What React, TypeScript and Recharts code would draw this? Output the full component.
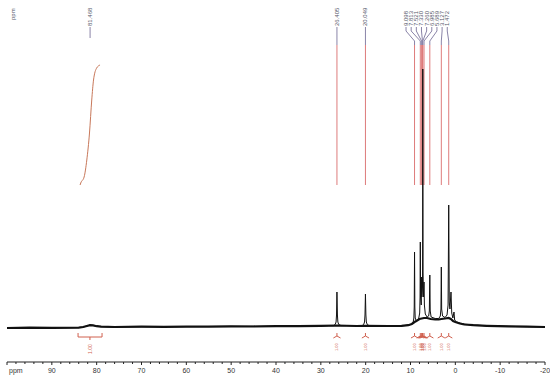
import React from "react";
import {
  ComposedChart,
  Line,
  XAxis,
  YAxis,
  ReferenceLine,
  ReferenceDot,
} from "recharts";

// spectrum: [ppm, intensity]
const spectrumPts: [number, number][] = [
  [100, -1], [90, -0.8], [84, -0.6], [83, 0], [82.2, 1.0], [81.5, 1.8], [80.8, 1.6],
  [80, 0.8], [79, 0.3], [76, 0], [70, 0.2], [60, 0.4], [50, 0.6], [40, 0.9], [30, 1.1],
  [27.2, 1.3], [26.8, 2.5], [26.6, 5], [26.5, 12], [26.405, 35], [26.3, 12], [26.2, 5],
  [26.0, 2.5], [25.5, 1.4], [22, 1], [20.85, 1.2], [20.45, 2.5], [20.25, 5], [20.15, 12],
  [20.049, 33], [19.95, 12], [19.85, 5], [19.65, 2.5], [19.2, 1.3], [15, 1], [12, 1.2],
  [10.5, 1.8], [9.7, 3], [9.4, 5], [9.25, 9], [9.17, 20], [9.098, 75], [9.03, 20],
  [8.95, 9], [8.7, 6], [8.2, 8], [7.95, 14], [7.87, 30], [7.813, 85], [7.75, 30],
  [7.6, 22], [7.521, 50], [7.45, 30], [7.38, 35], [7.33, 40], [7.3, 60], [7.26, 258],
  [7.2, 55], [7.1, 30], [6.985, 45], [6.9, 22], [6.7, 13], [6.3, 10], [5.95, 11],
  [5.8, 16], [5.689, 52], [5.6, 16], [5.4, 10], [4.5, 8.5], [3.7, 8.5], [3.35, 11],
  [3.21, 18], [3.127, 60], [3.05, 18], [2.85, 11], [2.3, 9.5], [1.85, 12], [1.62, 22],
  [1.472, 122], [1.35, 25], [1.2, 18], [0.97, 35], [0.8, 14], [0.55, 9], [0.3, 15],
  [0.15, 7], [-0.3, 5], [-1, 4], [-2, 3], [-4, 2], [-7, 1.2], [-12, 0.6], [-20, 0],
];

// noisy baseline (drawn thick)
const baselinePts: [number, number][] = [
  [100, -1], [95, -0.6], [90, -0.9], [84, -0.6], [83, 0], [82.2, 1.0], [81.5, 1.8],
  [80.8, 1.6], [80, 0.8], [79, 0.3], [76, 0], [70, 0.3], [65, 0.1], [60, 0.4], [55, 0.3],
  [50, 0.6], [45, 0.5], [40, 0.9], [35, 0.8], [30, 1.1], [26.4, 1.5], [22, 1], [20, 1.2],
  [15, 1], [12, 1.2], [10.5, 1.8], [9.7, 3], [9.1, 5], [8.7, 6], [8, 8], [7, 9], [6.3, 9],
  [5.5, 8], [4.5, 7.5], [3.7, 7.5], [3.1, 8], [2.3, 8.5], [1.5, 9], [1, 8], [0.5, 6],
  [0, 5], [-1, 3.5], [-2, 2.5], [-4, 1.8], [-7, 1.2], [-12, 0.6], [-16, 0.3], [-20, 0],
];

// integral curve over the broad signal at 81 ppm
const integralPts: [number, number][] = [
  [83.7, 142], [83.55, 144], [82.8, 150], [82.2, 167], [81.6, 194],
  [81.1, 227], [80.7, 247], [80.0, 259], [79.25, 262],
];

const peakLabels = ["26.405", "20.049"];
const clusterLabels = [
  "9.098", "7.813", "7.521", "7.330", "7.260", "6.985", "5.689", "3.127", "1.472",
];
const integralLabels = ["1.00", "1.00", "1.00", "1.00", "1.00", "1.00", "1.00", "1.00", "1.00", "1.00", "1.00"];

const majorTicks = [100, 90, 80, 70, 60, 50, 40, 30, 20, 10, 0, -10, -20];
const allTicks = Array.from({ length: 61 }, (_, i) => 100 - i * 2);

const toRows = (pts: [number, number][]) => pts.map(([ppm, v]) => ({ ppm, v }));

const LABEL_COLOR = "#55586a";
const LINK_COLOR = "#8a84a8";
const RED = "#de7b7b";
const MARK = "#d0604f";
const FONT = "Liberation Sans, Arial, sans-serif";

const AxisTick = (props: any) => {
  const { x, y, payload } = props;
  const val = payload.value;
  const major = majorTicks.includes(val);
  return (
    <g>
      <line x1={x} x2={x} y1={y} y2={y + (major ? 3 : 2)} stroke="#222" />
      {major && val !== 100 && (
        <text x={x} y={y + 11} textAnchor="middle" style={{ fontSize: 7, fill: "#333", fontFamily: FONT }}>
          {val}
        </text>
      )}
      {val === 100 && (
        <text x={x + 2} y={y + 11} style={{ fontSize: 7, fill: "#333", fontFamily: FONT }}>
          ppm
        </text>
      )}
    </g>
  );
};

const vText = (text: string, size: number, color: string) => (p: any) =>
  (
    <text
      x={p.cx}
      y={p.cy}
      transform={`rotate(-90 ${p.cx} ${p.cy})`}
      style={{ fontSize: size, fill: color, fontFamily: FONT }}
      dominantBaseline="central"
    >
      {text}
    </text>
  );

const App: React.FC = () => {
  const singlePeaks = peakLabels.map((l) => Number(l));
  const clusterPeaks = clusterLabels.map((l) => Number(l));
  const markerPeaks = [...singlePeaks, ...clusterPeaks];
  const labelX = (i: number) => 11.0 - i * 1.15;

  return (
    <div style={{ position: "absolute", left: 0, top: 0, background: "#fff" }}>
      <ComposedChart width={550} height={379} margin={{ top: 0, right: 5, bottom: 0, left: 7 }}>
        <XAxis
          type="number"
          dataKey="ppm"
          domain={[-20, 100]}
          reversed
          allowDataOverflow
          ticks={allTicks}
          interval={0}
          tickSize={0}
          tickMargin={0}
          tickLine={false}
          tick={<AxisTick />}
          height={17}
          axisLine={{ stroke: "#222" }}
        />
        <YAxis hide domain={[-35, 327]} allowDataOverflow />

        {/* top labels */}
        <ReferenceDot x={98.6} y={307} r={0} shape={vText("ppm", 6, LABEL_COLOR)} />
        <ReferenceDot x={81.468} y={301} r={0} shape={vText("81.468", 6, LABEL_COLOR)} />
        <ReferenceLine segment={[{ x: 81.468, y: 300 }, { x: 81.468, y: 289 }]} stroke={LINK_COLOR} />

        {singlePeaks.map((p, i) => (
          <ReferenceDot key={"sl" + i} x={p} y={301} r={0} shape={vText(peakLabels[i], 6, LABEL_COLOR)} />
        ))}
        {singlePeaks.map((p, i) => (
          <ReferenceLine key={"sk" + i} segment={[{ x: p, y: 300 }, { x: p, y: 282 }]} stroke={LINK_COLOR} />
        ))}

        {clusterPeaks.map((p, i) => (
          <ReferenceDot key={"cl" + i} x={labelX(i)} y={301} r={0} shape={vText(clusterLabels[i], 6, LABEL_COLOR)} />
        ))}
        {clusterPeaks.map((p, i) => (
          <ReferenceLine key={"ca" + i} segment={[{ x: labelX(i), y: 300 }, { x: labelX(i), y: 296 }]} stroke={LINK_COLOR} />
        ))}
        {clusterPeaks.map((p, i) => (
          <ReferenceLine key={"cb" + i} segment={[{ x: labelX(i), y: 296 }, { x: p, y: 286 }]} stroke={LINK_COLOR} />
        ))}
        {clusterPeaks.map((p, i) => (
          <ReferenceLine key={"cc" + i} segment={[{ x: p, y: 286 }, { x: p, y: 282 }]} stroke={LINK_COLOR} />
        ))}

        {/* red peak lines */}
        {markerPeaks.map((p, i) => (
          <ReferenceLine key={"r" + i} segment={[{ x: p, y: 282 }, { x: p, y: 142 }]} stroke={RED} />
        ))}

        {/* integral bracket at 81 ppm */}
        <ReferenceLine segment={[{ x: 84.15, y: -6 }, { x: 84.15, y: -10 }]} stroke={MARK} />
        <ReferenceLine segment={[{ x: 78.8, y: -6 }, { x: 78.8, y: -10 }]} stroke={MARK} />
        <ReferenceLine segment={[{ x: 84.15, y: -10 }, { x: 78.8, y: -10 }]} stroke={MARK} />
        <ReferenceLine segment={[{ x: 81.5, y: -10 }, { x: 81.5, y: -13 }]} stroke={MARK} />
        <ReferenceDot x={81.5} y={-27} r={0} shape={vText("1.00", 5, MARK)} />

        {/* integral markers under peaks */}
        {markerPeaks.map((p, i) => (
          <ReferenceLine key={"m1" + i} segment={[{ x: p, y: -6 }, { x: p, y: -9 }]} stroke={MARK} />
        ))}
        {markerPeaks.map((p, i) => (
          <ReferenceLine key={"m2" + i} segment={[{ x: p + 0.8, y: -11 }, { x: p, y: -9 }]} stroke={MARK} />
        ))}
        {markerPeaks.map((p, i) => (
          <ReferenceLine key={"m4" + i} segment={[{ x: p, y: -9 }, { x: p - 0.8, y: -11 }]} stroke={MARK} />
        ))}
        {markerPeaks.map((p, i) => (
          <ReferenceDot key={"m3" + i} x={p} y={-24} r={0} shape={vText(integralLabels[i], 4, MARK)} />
        ))}

        <Line
          data={toRows(baselinePts)}
          dataKey="v"
          type="linear"
          stroke="#111"
          strokeWidth={2.2}
          dot={false}
          isAnimationActive={false}
        />
        <Line
          data={toRows(spectrumPts)}
          dataKey="v"
          type="linear"
          stroke="#111"
          strokeWidth={1}
          dot={false}
          isAnimationActive={false}
        />
        <Line
          data={toRows(integralPts)}
          dataKey="v"
          type="monotone"
          stroke="#c8785a"
          strokeWidth={1}
          dot={false}
          isAnimationActive={false}
        />
      </ComposedChart>
    </div>
  );
};

export default App;
